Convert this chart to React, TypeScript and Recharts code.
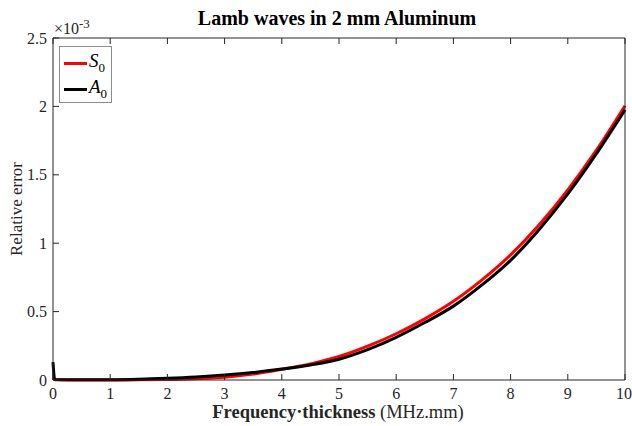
import React from 'react';
import { LineChart, Line, XAxis, YAxis } from 'recharts';

// frequency-thickness (MHz.mm)
const FREQ = [0, 0.03, 0.5, 1, 1.5, 2, 2.5, 3, 3.5, 4, 4.5, 5, 5.5, 6, 6.5, 7, 7.5, 8, 8.5, 9, 9.5, 10];
// relative error, in units of 1e-3
const S0 = [0.02, 0.002, 0.0, 0.0, 0.001, 0.004, 0.01, 0.02, 0.043, 0.078, 0.118, 0.172, 0.247, 0.338, 0.447, 0.575, 0.732, 0.915, 1.135, 1.39, 1.68, 2.005];
const A0 = [0.13, 0.004, 0.002, 0.002, 0.005, 0.012, 0.022, 0.036, 0.055, 0.08, 0.11, 0.152, 0.222, 0.312, 0.42, 0.54, 0.695, 0.875, 1.1, 1.36, 1.655, 1.975];

const X_TICKS = [0, 1, 2, 3, 4, 5, 6, 7, 8, 9, 10];
const Y_TICKS = [0, 0.5, 1, 1.5, 2, 2.5];

const data = FREQ.map((f, i) => ({ f, s0: S0[i], a0: A0[i] }));

const AXIS = '#262626';
const SERIF = '"Liberation Serif", "Times New Roman", serif';
const tickStyle = { fontSize: 16, fill: AXIS, fontFamily: SERIF };

export default function App() {
  return (
    <div style={{ position: 'absolute', left: 0, top: 0, width: 632, height: 426, background: '#fff', fontFamily: SERIF }}>
      <LineChart width={632} height={426} data={data} margin={{ top: 0, right: 0, bottom: 0, left: 0 }}>
        <XAxis
          xAxisId="bottom"
          dataKey="f"
          type="number"
          domain={[0, 10]}
          ticks={X_TICKS}
          height={46}
          stroke={AXIS}
          tickSize={-6}
          tickMargin={14}
          tick={tickStyle}
        />
        <XAxis
          xAxisId="top"
          orientation="top"
          dataKey="f"
          type="number"
          domain={[0, 10]}
          ticks={X_TICKS}
          height={38}
          stroke={AXIS}
          tickSize={-6}
          tickFormatter={() => ''}
        />
        <YAxis
          yAxisId="left"
          type="number"
          domain={[0, 2.5]}
          ticks={Y_TICKS}
          width={53}
          stroke={AXIS}
          tickSize={-6}
          tickMargin={12}
          tick={tickStyle}
        />
        <YAxis
          yAxisId="right"
          orientation="right"
          type="number"
          domain={[0, 2.5]}
          ticks={Y_TICKS}
          width={7}
          stroke={AXIS}
          tickSize={-6}
          tickFormatter={() => ''}
        />
        <Line
          xAxisId="bottom"
          yAxisId="left"
          type="monotone"
          dataKey="s0"
          stroke="#ff0000"
          strokeWidth={3}
          dot={false}
          isAnimationActive={false}
        />
        <Line
          xAxisId="bottom"
          yAxisId="left"
          type="monotone"
          dataKey="a0"
          stroke="#000000"
          strokeWidth={3}
          dot={false}
          isAnimationActive={false}
        />
      </LineChart>

      {/* title */}
      <div style={{ position: 'absolute', left: 0, width: 674, top: 7, textAlign: 'center', fontWeight: 'bold', fontSize: 20, color: '#000', whiteSpace: 'nowrap' }}>
        Lamb waves in 2 mm Aluminum
      </div>

      {/* exponent */}
      <div style={{ position: 'absolute', left: 54, top: 16, fontSize: 16, color: AXIS, whiteSpace: 'nowrap' }}>
        ×10<sup style={{ fontSize: 13 }}>-3</sup>
      </div>

      {/* y label */}
      <div style={{ position: 'absolute', left: 17, top: 209, transform: 'translate(-50%, -50%) rotate(-90deg)', whiteSpace: 'nowrap', fontSize: 17, color: AXIS }}>
        Relative error
      </div>

      {/* x label */}
      <div style={{ position: 'absolute', left: 0, width: 676, top: 402, textAlign: 'center', fontSize: 18.5, color: AXIS, whiteSpace: 'nowrap' }}>
        <b>Frequency·thickness</b> (MHz.mm)
      </div>

      {/* legend */}
      <div style={{ position: 'absolute', left: 59, top: 46, width: 51, height: 55, border: '1px solid #8c8c8c', background: '#fff' }}>
        {[{ c: '#ff0000', n: 'S' }, { c: '#000000', n: 'A' }].map((it, i) => (
          <div key={it.n} style={{ position: 'absolute', left: 4, top: 4 + i * 26, height: 24, display: 'flex', alignItems: 'center' }}>
            <span style={{ display: 'inline-block', width: 23, height: 3, background: it.c, marginRight: 2 }} />
            <span style={{ fontStyle: 'italic', fontSize: 19, color: '#000' }}>
              {it.n}
              <sub style={{ fontStyle: 'normal', fontSize: 13 }}>0</sub>
            </span>
          </div>
        ))}
      </div>
    </div>
  );
}
